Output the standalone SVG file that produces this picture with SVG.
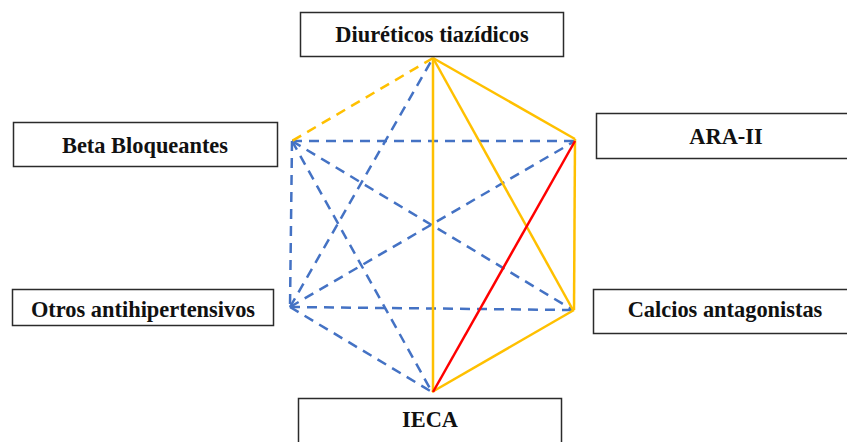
<svg xmlns="http://www.w3.org/2000/svg" width="847" height="442" viewBox="0 0 847 442">
<style>
.box{fill:#fff;stroke:#2b2b2b;stroke-width:1.5}
.lbl{font-family:"Liberation Serif","Times New Roman",serif;font-weight:bold;font-size:22.4px;fill:#111;text-anchor:middle}
.y{stroke:#FFC000;stroke-width:2.5;fill:none}
.r{stroke:#FF0000;stroke-width:2.5;fill:none}
.b{stroke:#4472C4;stroke-width:2.5;fill:none;stroke-dasharray:10 7}
.yd{stroke:#FFC000;stroke-width:2.5;fill:none;stroke-dasharray:10 7}
</style>
<rect width="847" height="442" fill="#fff"/>
<g id="connectors">
<line class="b" x1="292" y1="141" x2="575" y2="141"/>
<line class="b" x1="292" y1="141" x2="573" y2="310"/>
<line class="b" x1="292" y1="141" x2="290" y2="307"/>
<line class="b" x1="292" y1="141" x2="432" y2="392"/>
<line class="b" x1="290" y1="307" x2="433" y2="58"/>
<line class="b" x1="290" y1="307" x2="575" y2="141"/>
<line class="b" x1="290" y1="307" x2="573" y2="310"/>
<line class="b" x1="290" y1="307" x2="432" y2="392"/>
<line class="yd" x1="433" y1="58" x2="292" y2="141"/>
<line class="y" x1="433" y1="58" x2="433" y2="392"/>
<line class="y" x1="433" y1="58" x2="575" y2="139"/>
<line class="y" x1="433" y1="58" x2="573" y2="310"/>
<line class="y" x1="575" y1="139" x2="574" y2="310"/>
<line class="y" x1="574" y1="310" x2="432" y2="392"/>
<line class="r" x1="575" y1="141" x2="433" y2="392"/>
</g>
<g id="diureticos">
<rect class="box" x="300.5" y="12.5" width="263" height="44"/>
<text class="lbl" x="432" y="42">Diuréticos tiazídicos</text>
</g>
<g id="beta">
<rect class="box" x="13.5" y="122.5" width="264" height="44"/>
<text class="lbl" x="145" y="153">Beta Bloqueantes</text>
</g>
<g id="ara">
<rect class="box" x="596.5" y="113.5" width="260" height="45"/>
<text class="lbl" x="726" y="144">ARA-II</text>
</g>
<g id="otros">
<rect class="box" x="12.5" y="289.5" width="261" height="36"/>
<text class="lbl" x="143" y="317">Otros antihipertensivos</text>
</g>
<g id="calcios">
<rect class="box" x="593.5" y="289.5" width="263" height="44"/>
<text class="lbl" x="725" y="317">Calcios antagonistas</text>
</g>
<g id="ieca">
<rect class="box" x="298.5" y="398.5" width="263" height="50"/>
<text class="lbl" x="430" y="427">IECA</text>
</g>
</svg>
